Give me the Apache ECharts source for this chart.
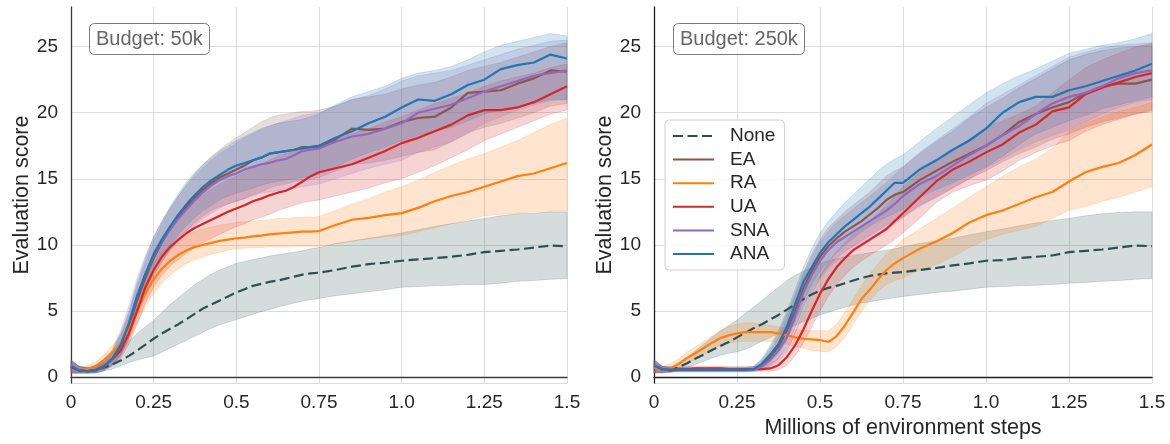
<!DOCTYPE html>
<html>
<head>
<meta charset="utf-8">
<script src="https://cdn.jsdelivr.net/npm/echarts@6/dist/echarts.min.js"></script>
<style>
  html, body { margin: 0; padding: 0; background: #ffffff; }
  #chart { width: 1170px; height: 444px; }
</style>
</head>
<body>
<div id="chart"></div>
<script>
// Environment steps (millions) at which every curve is sampled
const steps = [0, 0.025, 0.05, 0.075, 0.1, 0.125, 0.15, 0.175, 0.2, 0.225, 0.25, 0.275, 0.3, 0.325, 0.35, 0.375, 0.4, 0.425, 0.45, 0.475, 0.5,
  0.525, 0.55, 0.575, 0.6, 0.625, 0.65, 0.675, 0.7, 0.725, 0.75,
  0.8, 0.85, 0.9, 0.95, 1.0, 1.05, 1.1, 1.15, 1.2, 1.25, 1.3, 1.35, 1.4, 1.45, 1.5];

const xTickLabels = ['0', '0.25', '0.5', '0.75', '1.0', '1.25', '1.5'];
const methods = ['None', 'EA', 'RA', 'UA', 'SNA', 'ANA'];
const budgets = ['Budget: 50k', 'Budget: 250k'];

// ---------- Budget 50k: mean score and shaded band (low / high) ----------
const none50kMean = [0.75,0.5,0.45,0.55,0.72,0.95,1.25,1.6,2.0,2.45,2.9,3.3,3.65,4.0,4.4,4.8,5.2,5.5,5.8,6.1,6.4,
  6.65,6.9,7.05,7.2,7.3,7.45,7.6,7.75,7.85,7.9,
  8.1,8.35,8.55,8.65,8.8,8.9,9.0,9.1,9.25,9.45,9.55,9.65,9.8,9.95,9.9];
const none50kHigh = [1.2,0.8,0.7,0.8,1.05,1.5,2.1,2.7,3.3,3.8,4.3,4.9,5.5,6.0,6.5,7.0,7.4,7.8,8.1,8.35,8.6,
  8.75,8.9,9.0,9.15,9.25,9.35,9.45,9.55,9.7,9.8,
  10.1,10.3,10.5,10.7,10.9,11.15,11.4,11.6,11.8,12.0,12.2,12.35,12.4,12.5,12.5];
const none50kLow = [0.3,0.3,0.3,0.35,0.45,0.6,0.85,1.1,1.3,1.45,1.6,1.9,2.2,2.5,2.8,3.1,3.4,3.7,3.95,4.15,4.35,
  4.55,4.75,4.95,5.1,5.3,5.45,5.6,5.75,5.85,5.95,
  6.15,6.3,6.45,6.6,6.8,6.85,6.9,6.95,7.0,7.0,7.1,7.25,7.3,7.4,7.45];

const ea50kMean = [0.8,0.5,0.45,0.5,0.8,1.35,2.3,3.8,5.8,7.5,9.0,10.2,11.2,12.1,12.9,13.6,14.2,14.7,15.1,15.4,15.7,
  16.0,16.4,16.6,16.9,17.0,17.1,17.2,17.4,17.4,17.4,
  18.0,18.8,18.7,18.8,19.3,19.6,19.7,20.4,21.5,21.6,21.7,22.2,22.6,23.2,23.1];
const ea50kHigh = [1.3,0.8,0.7,0.8,1.2,1.9,3.1,4.8,6.9,8.7,10.3,11.6,12.7,13.7,14.6,15.4,16.1,16.7,17.2,17.7,18.1,
  18.5,18.9,19.3,19.6,19.8,19.9,20.0,20.1,20.1,20.2,
  20.5,21.0,21.2,21.4,21.8,22.1,22.3,22.7,23.2,23.5,23.8,24.2,24.6,25.0,25.3];
const ea50kLow = [0.3,0.3,0.3,0.3,0.5,0.85,1.6,2.8,4.6,6.2,7.6,8.7,9.6,10.4,11.1,11.7,12.2,12.6,12.9,13.1,13.3,
  13.5,13.8,14.0,14.3,14.5,14.6,14.8,14.9,15.0,15.1,
  15.6,16.1,16.2,16.4,16.7,17.0,17.2,17.8,18.5,18.9,19.2,19.6,20.0,20.5,20.7];

const ra50kMean = [0.7,0.55,0.6,0.85,1.3,1.85,2.5,3.6,5.0,6.3,7.4,8.2,8.8,9.25,9.6,9.85,10.0,10.15,10.3,10.4,10.5,
  10.55,10.65,10.7,10.8,10.85,10.9,10.95,11.0,11.0,11.05,
  11.5,11.9,12.05,12.25,12.4,12.8,13.3,13.7,14.0,14.4,14.8,15.2,15.4,15.8,16.2];
const ra50kHigh = [1.1,0.8,0.85,1.15,1.7,2.4,3.2,4.5,5.9,7.3,8.6,9.4,10.0,10.4,10.8,11.0,11.2,11.35,11.5,11.6,11.7,
  11.75,11.8,11.85,11.9,12.0,12.0,12.05,12.1,12.1,12.15,
  12.6,13.1,13.5,14.0,14.4,14.9,15.5,16.0,16.5,16.9,17.4,17.9,18.5,19.1,19.6];
const ra50kLow = [0.4,0.35,0.4,0.6,0.95,1.4,1.9,2.8,4.1,5.3,6.3,7.1,7.7,8.2,8.6,8.9,9.1,9.3,9.45,9.6,9.7,
  9.75,9.8,9.8,9.85,9.85,9.85,9.9,9.9,9.9,9.9,
  10.1,10.3,10.45,10.6,10.7,11.0,11.3,11.6,11.9,12.2,12.3,12.4,12.5,12.55,12.6];

const ua50kMean = [0.75,0.5,0.45,0.55,0.85,1.35,2.0,3.3,5.0,6.8,8.1,9.1,9.85,10.4,10.9,11.3,11.6,11.9,12.2,12.5,12.75,
  13.0,13.3,13.5,13.75,13.95,14.1,14.4,14.8,15.2,15.5,
  15.8,16.1,16.6,17.1,17.7,18.1,18.6,19.1,19.8,20.2,20.2,20.4,20.8,21.4,22.0];
const ua50kHigh = [1.2,0.8,0.7,0.8,1.15,1.8,2.7,4.2,6.0,7.9,9.5,10.6,11.5,12.2,12.8,13.3,13.8,14.2,14.6,14.9,15.2,
  15.5,15.8,16.1,16.4,16.7,16.9,17.1,17.3,17.5,17.6,
  18.0,18.4,18.8,19.3,19.7,20.2,20.7,21.1,21.5,22.0,22.4,22.7,23.0,23.4,23.7];
const ua50kLow = [0.3,0.3,0.3,0.35,0.6,0.95,1.4,2.5,4.0,5.6,6.8,7.7,8.4,8.9,9.4,9.8,10.2,10.5,10.8,11.1,11.4,
  11.6,11.9,12.1,12.3,12.6,12.8,13.0,13.2,13.3,13.4,
  13.7,14.0,14.3,14.7,15.0,15.5,16.0,16.6,17.2,17.9,18.4,18.9,19.4,19.9,20.2];

const sna50kMean = [0.85,0.5,0.45,0.5,0.8,1.4,2.4,4.1,6.2,7.8,9.2,10.3,11.2,12.0,12.7,13.4,14.0,14.5,14.9,15.2,15.4,
  15.7,15.9,16.1,16.2,16.4,16.5,16.8,17.1,17.2,17.3,
  17.8,18.2,18.4,18.8,19.2,20.0,20.3,20.6,21.1,21.6,22.0,22.4,22.8,23.0,23.2];
const sna50kHigh = [1.3,0.8,0.7,0.8,1.25,2.1,3.5,5.4,7.5,9.2,10.6,11.8,12.8,13.7,14.5,15.2,15.8,16.4,16.9,17.3,17.7,
  18.1,18.4,18.7,19.0,19.2,19.4,19.6,19.8,19.9,20.0,
  20.5,21.0,21.3,21.8,22.4,22.8,23.0,23.2,23.6,24.0,24.4,24.8,25.1,25.4,25.5];
const sna50kLow = [0.3,0.3,0.3,0.3,0.5,0.9,1.6,3.0,4.9,6.4,7.8,8.8,9.6,10.3,10.9,11.5,12.0,12.4,12.8,13.1,13.3,
  13.5,13.7,13.9,14.0,14.1,14.2,14.3,14.4,14.5,14.6,
  15.0,15.4,15.8,16.1,16.4,17.0,17.4,17.8,18.4,19.2,19.7,20.2,20.6,20.9,21.0];

const ana50kMean = [0.8,0.5,0.45,0.5,0.8,1.4,2.4,4.0,6.1,7.8,9.3,10.4,11.4,12.3,13.1,13.8,14.4,14.9,15.3,15.7,16.0,
  16.2,16.4,16.6,16.9,17.0,17.1,17.2,17.3,17.4,17.5,
  18.1,18.6,19.2,19.7,20.4,21.0,20.9,21.4,22.1,22.5,23.3,23.6,23.8,24.4,24.1];
const ana50kHigh = [1.3,0.8,0.7,0.8,1.2,2.0,3.3,5.0,7.2,9.0,10.6,11.8,12.9,13.9,14.8,15.5,16.1,16.6,17.1,17.5,17.9,
  18.2,18.5,18.8,19.0,19.2,19.3,19.4,19.5,19.7,19.9,
  20.6,21.2,21.6,22.0,22.6,23.0,23.2,23.5,24.0,24.6,25.1,25.4,25.7,26.0,25.8];
const ana50kLow = [0.3,0.3,0.3,0.3,0.5,0.9,1.7,3.0,5.0,6.6,8.0,9.1,10.0,10.8,11.5,12.1,12.6,13.0,13.4,13.7,13.9,
  14.1,14.3,14.5,14.7,14.8,14.9,15.0,15.1,15.2,15.4,
  15.9,16.5,17.0,17.4,17.9,18.3,18.6,18.9,19.4,19.9,20.2,20.5,20.7,21.0,21.0];

// ---------- Budget 250k ----------
const none250kMean = [0.75,0.55,0.5,0.75,1.05,1.4,1.7,2.05,2.35,2.65,3.0,3.35,3.7,4.0,4.35,4.7,5.1,5.5,5.9,6.25,6.55,
  6.75,6.9,7.1,7.3,7.5,7.65,7.75,7.85,7.9,7.95,
  8.1,8.25,8.45,8.6,8.8,8.85,9.0,9.1,9.2,9.45,9.55,9.65,9.8,9.95,9.9];
const none250kHigh = [1.2,0.8,0.75,1.1,1.5,2.0,2.5,3.0,3.5,3.9,4.3,4.8,5.3,5.8,6.3,6.8,7.3,7.7,8.0,8.3,8.6,
  8.8,8.95,9.1,9.2,9.3,9.4,9.5,9.6,9.7,9.85,
  10.1,10.3,10.5,10.75,11.0,11.2,11.45,11.65,11.85,12.0,12.2,12.35,12.45,12.5,12.5];
const none250kLow = [0.3,0.3,0.35,0.5,0.7,0.95,1.2,1.45,1.65,1.8,1.9,2.1,2.4,2.7,3.0,3.3,3.6,3.9,4.2,4.45,4.7,
  4.9,5.1,5.3,5.45,5.6,5.7,5.8,5.9,6.0,6.1,
  6.25,6.4,6.5,6.65,6.8,6.85,6.9,6.95,7.0,7.1,7.15,7.25,7.3,7.4,7.45];

const ea250kMean = [0.85,0.6,0.55,0.55,0.55,0.55,0.55,0.55,0.55,0.55,0.55,0.55,0.6,0.9,1.5,2.3,3.5,5.0,6.7,8.0,9.1,
  9.9,10.5,11.0,11.4,11.8,12.3,12.8,13.4,13.8,14.0,
  14.9,15.6,16.3,16.9,17.5,18.3,19.3,19.9,20.4,20.8,21.5,22.0,22.2,22.2,22.5];
const ea250kHigh = [1.3,0.8,0.75,0.7,0.7,0.7,0.7,0.7,0.7,0.7,0.7,0.7,0.8,1.3,2.2,3.3,4.7,6.3,7.9,9.3,10.4,
  11.3,11.9,12.5,13.0,13.5,14.0,14.6,15.2,15.6,15.9,
  16.9,17.8,18.6,19.6,20.4,21.1,21.9,22.6,23.3,24.0,24.4,24.7,24.9,25.0,25.1];
const ea250kLow = [0.35,0.35,0.4,0.4,0.4,0.4,0.4,0.4,0.4,0.4,0.4,0.4,0.45,0.6,0.9,1.4,2.4,3.7,5.3,6.6,7.6,
  8.4,9.0,9.5,9.9,10.3,10.7,11.1,11.5,11.8,12.1,
  13.0,13.6,14.3,15.0,15.6,16.3,16.9,17.4,18.0,18.4,18.9,19.3,19.6,19.9,20.1];

const ra250kMean = [0.7,0.55,0.65,1.0,1.45,1.8,2.2,2.6,2.95,3.15,3.3,3.4,3.4,3.4,3.4,3.3,3.15,3.0,2.9,2.85,2.8,
  2.65,3.1,3.9,4.9,5.9,6.6,7.4,8.1,8.6,9.0,
  9.7,10.25,10.9,11.7,12.25,12.6,13.1,13.6,14.0,14.8,15.5,15.9,16.2,16.8,17.6];
const ra250kHigh = [1.1,0.8,1.0,1.4,1.9,2.3,2.7,3.1,3.5,3.8,4.0,4.1,4.1,4.0,3.9,3.8,3.7,3.6,3.55,3.5,3.5,
  3.5,4.0,4.9,5.9,6.9,7.8,8.6,9.3,9.8,10.4,
  11.2,12.0,12.8,13.6,14.4,15.2,15.9,16.5,17.3,18.6,19.2,19.7,20.1,20.4,20.8];
const ra250kLow = [0.35,0.35,0.4,0.65,1.0,1.3,1.7,2.1,2.4,2.55,2.65,2.7,2.7,2.7,2.7,2.6,2.5,2.3,2.2,2.0,1.95,
  1.9,2.3,3.0,4.0,5.0,5.8,6.5,7.0,7.3,7.5,
  8.1,8.5,9.1,9.8,10.4,10.8,11.1,11.4,12.0,12.6,12.9,13.3,13.6,14.0,14.4];

const ua250kMean = [0.85,0.6,0.55,0.6,0.6,0.65,0.65,0.65,0.65,0.6,0.6,0.6,0.6,0.6,0.65,0.9,1.5,2.4,3.6,5.0,6.3,
  7.4,8.3,9.0,9.6,10.0,10.4,10.8,11.2,11.8,12.4,
  13.6,14.8,15.7,16.3,17.0,17.6,18.5,19.1,20.1,20.4,21.4,21.9,22.3,22.7,23.0];
const ua250kHigh = [1.3,0.8,0.75,0.75,0.8,0.8,0.8,0.8,0.8,0.8,0.8,0.8,0.8,0.85,1.0,1.5,2.3,3.4,4.8,6.3,7.6,
  8.7,9.5,10.2,10.8,11.3,11.8,12.4,13.0,13.7,14.4,
  15.5,16.4,17.2,18.0,18.9,19.4,19.9,20.5,21.5,22.5,23.4,24.0,24.5,25.0,25.25];
const ua250kLow = [0.35,0.35,0.4,0.45,0.45,0.45,0.45,0.45,0.45,0.45,0.45,0.45,0.45,0.45,0.45,0.55,0.9,1.6,2.6,3.8,5.0,
  6.1,7.0,7.7,8.3,8.8,9.2,9.6,10.0,10.4,10.9,
  12.0,13.2,14.0,14.5,14.9,15.6,16.4,17.0,17.5,17.9,18.6,19.1,19.5,19.9,20.2];

const sna250kMean = [0.85,0.6,0.55,0.55,0.55,0.55,0.55,0.55,0.55,0.55,0.55,0.55,0.55,0.8,1.3,2.0,3.0,4.6,6.4,7.7,8.8,
  9.6,10.2,10.6,11.0,11.4,11.8,12.2,12.6,13.1,13.7,
  14.6,15.2,16.0,16.8,17.5,18.3,19.0,19.9,20.7,21.2,21.5,22.0,22.6,23.0,23.2];
const sna250kHigh = [1.3,0.8,0.75,0.7,0.7,0.7,0.7,0.7,0.7,0.7,0.7,0.7,0.75,1.2,2.0,3.0,4.3,6.0,7.7,9.1,10.2,
  11.0,11.7,12.2,12.7,13.2,13.7,14.2,14.7,15.3,15.9,
  17.0,17.9,18.8,19.7,20.7,21.4,22.1,22.8,23.5,24.2,24.6,24.9,25.1,25.2,25.3];
const sna250kLow = [0.35,0.35,0.4,0.4,0.4,0.4,0.4,0.4,0.4,0.4,0.4,0.4,0.4,0.5,0.8,1.2,1.9,3.3,5.0,6.4,7.4,
  8.2,8.8,9.2,9.5,9.9,10.3,10.7,11.1,11.6,12.1,
  12.9,13.6,14.3,15.0,15.8,16.5,17.2,17.8,18.3,18.7,19.3,19.9,20.4,20.8,21.0];

const ana250kMean = [0.85,0.6,0.55,0.55,0.55,0.55,0.55,0.55,0.55,0.55,0.55,0.55,0.6,1.0,1.7,2.5,3.8,5.5,7.2,8.3,9.4,
  10.2,10.8,11.4,11.9,12.4,12.9,13.5,14.1,14.7,14.7,
  15.7,16.4,17.2,17.9,18.8,20.0,20.8,21.2,21.2,21.7,22.0,22.4,22.8,23.2,23.7];
const ana250kHigh = [1.3,0.8,0.75,0.7,0.7,0.7,0.7,0.7,0.7,0.7,0.7,0.7,0.8,1.4,2.4,3.5,5.0,6.6,8.3,9.7,10.9,
  11.8,12.5,13.2,13.8,14.4,15.0,15.6,16.1,16.5,16.8,
  17.8,18.8,19.7,20.6,21.5,22.2,22.8,23.3,23.9,24.5,24.8,25.1,25.3,25.6,26.0];
const ana250kLow = [0.35,0.35,0.4,0.4,0.4,0.4,0.4,0.4,0.4,0.4,0.4,0.4,0.45,0.7,1.1,1.7,2.8,4.2,5.8,7.0,8.0,
  8.8,9.4,10.0,10.5,11.0,11.4,11.8,12.1,12.4,12.7,
  13.6,14.2,14.7,15.3,15.9,16.7,17.6,18.4,18.9,19.4,19.8,20.3,20.6,20.9,21.2];

// ---------- styling ----------
const colors = { None: '#2f4f4f', EA: '#8c564b', RA: '#ff7f0e', UA: '#d62728', SNA: '#9467bd', ANA: '#1f77b4' };
const FONT = "'Liberation Sans', Arial, sans-serif";
const INK = '#262626';

const panels = [
  { None: [none50kMean, none50kLow, none50kHigh], EA: [ea50kMean, ea50kLow, ea50kHigh],
    RA: [ra50kMean, ra50kLow, ra50kHigh], UA: [ua50kMean, ua50kLow, ua50kHigh],
    SNA: [sna50kMean, sna50kLow, sna50kHigh], ANA: [ana50kMean, ana50kLow, ana50kHigh] },
  { None: [none250kMean, none250kLow, none250kHigh], EA: [ea250kMean, ea250kLow, ea250kHigh],
    RA: [ra250kMean, ra250kLow, ra250kHigh], UA: [ua250kMean, ua250kLow, ua250kHigh],
    SNA: [sna250kMean, sna250kLow, sna250kHigh], ANA: [ana250kMean, ana250kLow, ana250kHigh] }
];

function rgba(hex, a) {
  const n = parseInt(hex.slice(1), 16);
  return 'rgba(' + (n >> 16) + ',' + ((n >> 8) & 255) + ',' + (n & 255) + ',' + a + ')';
}

// Shaded spread between low and high, drawn as one polygon in axis coordinates
function bandSeries(name, panel, low, high) {
  return {
    type: 'custom',
    name: name + ' band',
    xAxisIndex: panel, yAxisIndex: panel,
    silent: true,
    animation: false,
    data: [[steps[0], low[0]]],
    renderItem: function (params, api) {
      const pts = [];
      for (let i = 0; i < steps.length; i++) pts.push(api.coord([steps[i], high[i]]));
      for (let i = steps.length - 1; i >= 0; i--) pts.push(api.coord([steps[i], low[i]]));
      return {
        type: 'polygon',
        shape: { points: pts },
        style: { fill: rgba(colors[name], 0.2), stroke: rgba(colors[name], 0.22), lineWidth: 0.8 }
      };
    }
  };
}

function meanSeries(name, panel, mean) {
  return {
    type: 'line',
    name: name,
    xAxisIndex: panel, yAxisIndex: panel,
    symbol: 'none',
    showSymbol: false,
    animation: false,
    color: colors[name],
    lineStyle: { width: 2.2, color: colors[name], type: name === 'None' ? [10, 4.5] : 'solid' },
    data: steps.map((x, i) => [x, mean[i]])
  };
}

const series = [];
panels.forEach((p, k) => {
  methods.forEach(m => {
    series.push(bandSeries(m, k, p[m][1], p[m][2]));
    series.push(meanSeries(m, k, p[m][0]));
  });
});

const grids = [
  { left: 71, top: 7, width: 496, height: 376 },
  { left: 654, top: 7, width: 498, height: 376 }
];

function xAxisFor(k) {
  return {
    type: 'value', gridIndex: k, min: 0, max: 1.5, interval: 0.25,
    axisLine: { show: true, lineStyle: { color: k === 0 ? '#3a3a3a' : '#1e1e1e', width: 1.3 } },
    axisTick: { show: false },
    axisLabel: {
      margin: 10, fontSize: 19, color: INK, fontFamily: FONT,
      formatter: v => xTickLabels[Math.round(v / 0.25)]
    },
    splitLine: { show: true, lineStyle: { color: '#dcdcdc', width: 1 } },
    name: k === 1 ? 'Millions of environment steps' : '',
    nameLocation: 'middle', nameGap: 33,
    nameTextStyle: { fontSize: 21.5, color: INK, fontFamily: FONT }
  };
}

function yAxisFor(k) {
  return {
    type: 'value', gridIndex: k, min: -0.45, max: 28, splitNumber: 5,
    axisLine: { show: true, lineStyle: { color: k === 0 ? '#3a3a3a' : '#1e1e1e', width: 1.3 } },
    axisTick: { show: false },
    axisLabel: {
      margin: 13, fontSize: 19, color: INK, fontFamily: FONT,
      showMinLabel: false, showMaxLabel: false
    },
    splitLine: { show: true, showMaxLine: false, lineStyle: { color: '#dcdcdc', width: 1 } },
    name: 'Evaluation score',
    nameLocation: 'middle', nameGap: 38,
    nameTextStyle: { fontSize: 21.5, color: INK, fontFamily: FONT }
  };
}

const titleBox = (text, left) => ({
  text: text, left: left, top: 23,
  padding: [5, 7, 5, 7],
  borderColor: '#7a7a7a', borderWidth: 1, borderRadius: 5,
  backgroundColor: 'rgba(255,255,255,0.8)',
  textStyle: { fontSize: 20, lineHeight: 22, color: '#666666', fontWeight: 'normal', fontFamily: FONT }
});

const chart = echarts.init(document.getElementById('chart'), null, { renderer: 'canvas' });
chart.setOption({
  animation: false,
  backgroundColor: '#ffffff',
  title: [titleBox(budgets[0], 89), titleBox(budgets[1], 673)],
  grid: grids,
  xAxis: [xAxisFor(0), xAxisFor(1)],
  yAxis: [yAxisFor(0), yAxisFor(1)],
  legend: {
    data: methods,
    orient: 'vertical',
    left: 665, top: 120,
    padding: [6, 9, 6, 7],
    itemWidth: 41, itemHeight: 14, itemGap: 3.6,
    itemStyle: { opacity: 0 },
    backgroundColor: 'rgba(255,255,255,0.85)',
    borderColor: '#d0d0d0', borderWidth: 1, borderRadius: 4,
    selectedMode: false,
    textStyle: { fontSize: 19, lineHeight: 20, color: INK, fontFamily: FONT, padding: [0, 0, 0, 11] }
  },
  series: series
});
</script>
</body>
</html>
